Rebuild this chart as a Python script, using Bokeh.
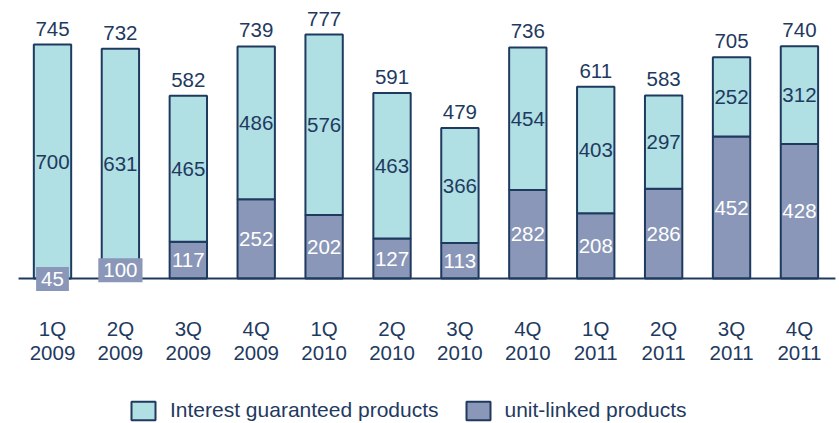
from bokeh.plotting import figure
from bokeh.models import ColumnDataSource, Range1d, Legend, LegendItem
from bokeh.core.properties import value
from bokeh.embed import file_html
from bokeh.resources import INLINE

# ---- data ----
quarters = ["1Q", "2Q", "3Q", "4Q", "1Q", "2Q", "3Q", "4Q", "1Q", "2Q", "3Q", "4Q"]
years = ["2009", "2009", "2009", "2009", "2010", "2010", "2010", "2010",
         "2011", "2011", "2011", "2011"]
totals = [745, 732, 582, 739, 777, 591, 479, 736, 611, 583, 705, 740]
interest = [700, 631, 465, 486, 576, 463, 366, 454, 403, 297, 252, 312]
unit_linked = [45, 100, 117, 252, 202, 127, 113, 282, 208, 286, 452, 428]
split_shown = [False, False, True, True, True, True, True, True, True, True, True, True]

# ---- styles ----
C_INT = "#b0dfe4"
C_UL = "#8a97b8"
C_LINE = "#1f3a5f"
C_TEXT = "#1f3a5f"
FONT_NAME = "Liberation Sans"
FONT = value(FONT_NAME)
FS = "20.5px"

n = len(totals)
xs = list(range(n))
ul_base = [u if s else 0 for u, s in zip(unit_linked, split_shown)]

src_int = ColumnDataSource(dict(
    x=xs, bottom=ul_base, top=totals,
    mid=[(b + t) / 2 for b, t in zip(ul_base, totals)],
    lab=[str(v) for v in interest],
    tot=[str(v) for v in totals],
    q=quarters, yr=years, zero=[0] * n,
))
idx_shown = [i for i in range(n) if split_shown[i]]
idx_hidden = [i for i in range(n) if not split_shown[i]]
src_ul = ColumnDataSource(dict(
    x=[xs[i] for i in idx_shown],
    top=[unit_linked[i] for i in idx_shown],
    mid=[unit_linked[i] / 2 for i in idx_shown],
    lab=[str(unit_linked[i]) for i in idx_shown],
))
src_ul_box = ColumnDataSource(dict(
    x=[xs[i] for i in idx_hidden],
    mid=[unit_linked[i] / 2 for i in idx_hidden],
    lab=[str(unit_linked[i]) for i in idx_hidden],
))

W, H = 839, 423
p = figure(width=W, height=H, output_backend="svg", toolbar_location=None,
           x_range=Range1d(-0.7658, 11.590), y_range=Range1d(-461.8, 885.35),
           x_axis_type=None, y_axis_type=None, min_border=0)
p.grid.visible = False
p.outline_line_color = None
p.background_fill_color = "white"
p.border_fill_color = "white"

bw = 0.55
r_ul = p.vbar(x="x", bottom=0, top="top", width=bw, source=src_ul,
              fill_color=C_UL, line_color=C_LINE, line_width=2)
r_int = p.vbar(x="x", bottom="bottom", top="top", width=bw, source=src_int,
               fill_color=C_INT, line_color=C_LINE, line_width=2)

# baseline
p.line(x=[xs[0] - 0.5, xs[-1] + 0.53], y=[0, 0], line_color=C_LINE, line_width=2)

# total labels
p.text(x="x", y="top", text="tot", source=src_int, text_align="center",
       text_baseline="alphabetic", y_offset=-16, text_font=FONT,
       text_font_size=FS, text_color=C_TEXT)
# interest labels
p.text(x="x", y="mid", text="lab", source=src_int, text_align="center",
       text_baseline="middle", y_offset=0, text_font=FONT,
       text_font_size=FS, text_color=C_TEXT)
# unit-linked labels
p.text(x="x", y="mid", text="lab", source=src_ul, text_align="center",
       text_baseline="middle", y_offset=0, text_font=FONT,
       text_font_size=FS, text_color="white")
p.text(x="x", y="mid", text="lab", source=src_ul_box, text_align="center",
       text_baseline="middle", y_offset=7.5, text_font=FONT,
       text_font_size=FS, text_color="white",
       background_fill_color=C_UL, padding=5)
# category labels
p.text(x="x", y="zero", text="q", source=src_int, text_align="center",
       text_baseline="alphabetic", y_offset=50.5, text_font=FONT,
       text_font_size=FS, text_color=C_TEXT)
p.text(x="x", y="zero", text="yr", source=src_int, text_align="center",
       text_baseline="alphabetic", y_offset=75, text_font=FONT,
       text_font_size=FS, text_color=C_TEXT)

legend = Legend(items=[LegendItem(label="Interest guaranteed products", renderers=[r_int]),
                       LegendItem(label="unit-linked products", renderers=[r_ul])],
                location=(128, 1), orientation="horizontal",
                glyph_width=30, glyph_height=23, label_height=23,
                label_standoff=12, spacing=24, padding=0, margin=0,
                border_line_color=None, background_fill_alpha=0,
                label_text_font=FONT_NAME, label_text_font_size="21px",
                label_text_color=C_TEXT, label_text_baseline="middle")
p.add_layout(legend)

open("out.html", "w").write(file_html(p, INLINE))
